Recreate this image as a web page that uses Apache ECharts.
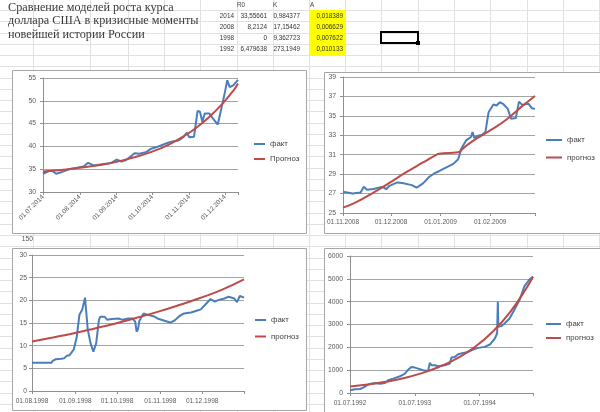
<!DOCTYPE html>
<html><head><meta charset="utf-8">
<script src="https://cdn.jsdelivr.net/npm/echarts@6/dist/echarts.min.js"></script>
<style>html,body{margin:0;padding:0;background:#fff}#c{width:600px;height:412px}</style>
</head><body><div id="c"></div>
<script>
// ---------------- data ----------------
const titleLines = ['Сравнение моделей роста курса', 'доллара США в кризисные моменты', 'новейшей истории России'];
const tableHeader = ['R0', 'K', 'A'];
const tableYears = ['2014', '2008', '1998', '1992'];
const tableR0 = ['33,55661', '8,2124', '0', '6,479638'];
const tableK = ['0,984377', '17,15462', '9,362723', '273,1949'];
const tableA = ['0,018389', '0,006629', '0,007622', '0,010133'];
const hiddenAxisLabel = '150';

// 2014
const dates2014 = ['2014-07-01','2014-07-06','2014-07-09','2014-07-12','2014-07-17','2014-07-23','2014-07-30','2014-08-04','2014-08-08','2014-08-13','2014-08-20','2014-08-27','2014-09-01','2014-09-05','2014-09-09','2014-09-16','2014-09-20','2014-09-26','2014-09-30','2014-10-04','2014-10-13','2014-10-18','2014-10-23','2014-10-27','2014-10-30','2014-11-01','2014-11-05','2014-11-08','2014-11-10','2014-11-12','2014-11-14','2014-11-18','2014-11-21','2014-11-25','2014-11-28','2014-12-01','2014-12-03','2014-12-05','2014-12-08','2014-12-12'];
const fact2014 = [34.0,34.6,34.6,34.0,34.4,35.0,35.3,35.6,36.4,35.8,36.1,36.35,37.1,36.7,37.0,38.5,38.4,38.8,39.5,39.8,40.7,41.1,41.3,42.0,43.0,42.0,42.1,47.8,47.6,45.4,47.2,47.2,46.1,44.8,48.3,51.9,54.5,53.0,53.4,54.6];
const fcDates2014 = ['2014-07-01','2014-07-16','2014-07-31','2014-08-15','2014-08-30','2014-09-14','2014-09-29','2014-10-14','2014-10-29','2014-11-08','2014-11-18','2014-11-28','2014-12-08','2014-12-12'];
const fc2014 = [34.5,34.8,35.3,35.8,36.5,37.5,38.7,40.3,42.5,44.3,46.5,49.1,52.2,53.8];
const xLabels2014 = ['2014-07-01','2014-08-01','2014-09-01','2014-10-01','2014-11-01','2014-12-01'];
const xTicks2014 = ['2014-07-01','2014-08-01','2014-09-01','2014-10-01','2014-11-01','2014-12-01','2014-12-12'];
const yTicks2014 = [30,35,40,45,50,55];

// 2008
const dates2008 = ['2008-11-01','2008-11-07','2008-11-12','2008-11-14','2008-11-16','2008-11-20','2008-11-24','2008-11-26','2008-11-28','2008-11-30','2008-12-05','2008-12-08','2008-12-14','2008-12-17','2008-12-21','2008-12-25','2008-12-28','2008-12-31','2009-01-04','2009-01-09','2009-01-12','2009-01-14','2009-01-17','2009-01-20','2009-01-21','2009-01-22','2009-01-24','2009-01-27','2009-01-29','2009-01-31','2009-02-03','2009-02-05','2009-02-07','2009-02-09','2009-02-12','2009-02-14','2009-02-15','2009-02-17','2009-02-19','2009-02-21','2009-02-25','2009-02-27','2009-03-01'];
const fact2008 = [27.19,27.0,27.1,27.7,27.4,27.47,27.64,27.67,27.45,27.8,28.15,28.08,27.87,27.6,28.05,28.73,29.07,29.3,29.65,30.06,30.54,31.63,32.48,32.82,33.33,32.72,32.92,33.06,33.33,35.38,36.17,36.06,36.4,36.24,35.72,34.7,34.6,34.77,36.47,36.13,36.24,35.79,35.72];
const fcDates2008 = ['2008-11-01','2008-11-09','2008-11-20','2008-11-30','2008-12-10','2008-12-21','2008-12-29','2008-12-31','2009-01-12','2009-01-14','2009-01-21','2009-02-01','2009-02-11','2009-02-21','2009-03-01'];
const fc2008 = [25.55,26.1,27.1,28.1,29.15,30.2,30.95,31.1,31.25,31.5,32.4,33.5,34.6,36.0,37.05];
const xLabels2008 = ['2008-11-01','2008-12-01','2009-01-01','2009-02-01'];
const xTicks2008 = ['2008-11-01','2008-12-01','2009-01-01','2009-02-01','2009-03-01'];
const yTicks2008 = [25,27,29,31,33,35,37,39];

// 1998
const dates1998 = ['1998-08-01','1998-08-15','1998-08-16','1998-08-17','1998-08-18','1998-08-22','1998-08-24','1998-08-26','1998-08-28','1998-08-29','1998-08-31','1998-09-02','1998-09-04','1998-09-06','1998-09-08','1998-09-10','1998-09-12','1998-09-14','1998-09-16','1998-09-18','1998-09-19','1998-09-22','1998-09-24','1998-09-27','1998-10-02','1998-10-05','1998-10-09','1998-10-12','1998-10-14','1998-10-15','1998-10-16','1998-10-17','1998-10-20','1998-10-23','1998-10-27','1998-10-30','1998-11-04','1998-11-08','1998-11-11','1998-11-15','1998-11-18','1998-11-23','1998-11-27','1998-11-30','1998-12-04','1998-12-07','1998-12-10','1998-12-13','1998-12-17','1998-12-20','1998-12-24','1998-12-26','1998-12-28','1998-12-31'];
const fact1998 = [6.25,6.25,6.7,6.5,7.0,7.1,7.2,7.8,7.9,8.3,9.2,11.8,16.8,17.9,20.6,13.5,10.5,8.7,10.5,15.7,16.4,16.4,15.7,15.9,16.0,15.7,16.0,16.0,15.3,13.1,13.6,15.5,17.1,16.8,16.5,16.0,15.5,15.1,15.5,16.6,17.1,17.3,17.7,18.0,19.3,20.3,19.7,20.1,20.4,20.8,20.4,19.6,21.0,20.6];
const fcDates1998 = ['1998-08-01','1998-08-16','1998-08-31','1998-09-15','1998-09-30','1998-10-15','1998-10-30','1998-11-14','1998-11-29','1998-12-15','1998-12-31'];
const fc1998 = [10.9,11.8,12.75,13.8,14.9,16.15,17.45,18.9,20.45,22.3,24.6];
const xLabels1998 = ['1998-08-01','1998-09-01','1998-10-01','1998-11-01','1998-12-01'];
const xTicks1998 = ['1998-08-01','1998-09-01','1998-10-01','1998-11-01','1998-12-01','1998-12-31'];
const yTicks1998 = [0,5,10,15,20,25,30];

// 1992
const dates1992 = ['1992-07-01','1992-07-29','1992-08-26','1992-09-14','1992-10-03','1992-10-16','1992-11-18','1992-12-17','1993-01-14','1993-02-01','1993-03-01','1993-04-08','1993-05-06','1993-05-25','1993-06-12','1993-07-01','1993-07-20','1993-08-17','1993-09-14','1993-09-23','1993-10-03','1993-10-22','1993-11-09','1993-12-17','1994-01-14','1994-01-23','1994-02-11','1994-03-02','1994-03-30','1994-04-27','1994-05-25','1994-06-22','1994-07-29','1994-08-27','1994-09-24','1994-10-07','1994-10-11','1994-10-14','1994-10-30','1994-11-18','1994-12-16','1995-01-13','1995-02-10','1995-03-10','1995-04-08','1995-04-27'];
const fact1992 = [117,160,176,234,337,381,439,410,439,556,630,732,849,1025,1142,1113,1069,995,966,1318,1215,1215,1171,1215,1288,1552,1581,1698,1757,1801,1903,1976,2020,2123,2386,2606,3997,2899,2928,3045,3265,3660,4070,4685,4978,5095];
const fcDates1992 = ['1992-07-01','1992-10-09','1993-01-17','1993-04-27','1993-08-05','1993-11-13','1994-02-21','1994-06-01','1994-09-09','1994-12-18','1995-03-28','1995-04-27'];
const fc1992 = [290,370,490,650,860,1140,1510,2000,2660,3530,4680,5100];
const xLabels1992 = ['1992-07-01','1993-07-01','1994-07-01'];
const xTicks1992 = ['1992-07-01','1993-07-01','1994-07-01','1995-04-27'];
const yTicks1992 = [0,1000,2000,3000,4000,5000,6000];

// ---------------- style / layout ----------------
const BLUE = '#4A7EBB', RED = '#BE4B48';
const AXC = '#8f8f8f', GRIDC = '#a3a3a3', LBL = '#595959';
const FONT_AX = '"Liberation Sans",Arial,sans-serif';

const chart = echarts.init(document.getElementById('c'), null, {renderer: 'canvas'});

function ts(s) { return Date.parse(s + 'T00:00:00Z'); }
function pairs(d, v) { return d.map((x, i) => [ts(x), v[i]]); }
function fmtDate(v) { return echarts.time.format(v, '{dd}.{MM}.{yyyy}', true); }

function xAx(gi, min, max, labels, ticks, rotate, margin) {
  return {
    type: 'value', gridIndex: gi, min: ts(min), max: ts(max), scale: true,
    axisLine: {show: true, onZero: false, lineStyle: {color: AXC, width: 1}},
    axisTick: {show: true, customValues: ticks.map(ts), length: 3, lineStyle: {color: AXC}},
    axisLabel: {customValues: labels.map(ts), formatter: fmtDate, rotate: rotate, margin: margin,
      fontSize: 6.5, color: LBL, fontFamily: FONT_AX, hideOverlap: false},
    splitLine: {show: false}, minorTick: {show: false}
  };
}
function yAx(gi, ticks, margin) {
  return {
    type: 'value', gridIndex: gi, min: ticks[0], max: ticks[ticks.length - 1],
    axisLine: {show: true, onZero: false, lineStyle: {color: AXC, width: 1}},
    axisTick: {show: true, customValues: ticks, length: 3, lineStyle: {color: AXC}},
    axisLabel: {customValues: ticks, formatter: v => String(v), margin: margin, fontSize: 6.8, color: LBL, fontFamily: FONT_AX},
    splitLine: {show: true, lineStyle: {color: GRIDC, width: 1}}
  };
}
function ln(name, gi, d, v, color, smooth) {
  return {type: 'line', name: name, xAxisIndex: gi, yAxisIndex: gi, data: pairs(d, v),
    showSymbol: false, symbol: 'none', smooth: smooth, lineStyle: {color: color, width: 2},
    itemStyle: {color: color}, z: smooth ? 3 : 2};
}
function lg(names, left, top, iw, gap) {
  return {data: names, orient: 'vertical', left: left, top: top, itemWidth: iw, itemHeight: 2,
    itemGap: gap, icon: 'rect', padding: 0, selectedMode: false,
    textStyle: {fontSize: 7.8, color: '#404040', fontFamily: FONT_AX}};
}

// spreadsheet background
const g = [];
const colX = [33, 90, 128, 164, 200, 237, 273, 309, 345, 381, 418, 454, 490, 527, 563, 599];
for (const x of colX) g.push({type: 'line', z: -20, silent: true, shape: {x1: x + 0.5, y1: 0, x2: x + 0.5, y2: 412}, style: {stroke: '#e1e1e1', lineWidth: 1}});
for (let y = 10; y < 412; y += 11.25) g.push({type: 'line', z: -20, silent: true, shape: {x1: 0, y1: Math.round(y) + 0.5, x2: 600, y2: Math.round(y) + 0.5}, style: {stroke: '#e1e1e1', lineWidth: 1}});
g.push({type: 'rect', z: -15, shape: {x: 309, y: 10, width: 37, height: 45}, style: {fill: '#FFFF00'}});
g.push({type: 'rect', z: -15, shape: {x: 381, y: 32, width: 37, height: 11}, style: {fill: 'none', stroke: '#000', lineWidth: 2}});
g.push({type: 'rect', z: -14, shape: {x: 416, y: 41, width: 4, height: 4}, style: {fill: '#000'}});
titleLines.forEach((t, i) => g.push({type: 'text', z: -10, x: 8, y: 7.5 + i * 13.5,
  style: {text: t, fill: '#3a3a3a', font: '12.2px "Liberation Serif", serif', align: 'left', verticalAlign: 'middle'}}));
const hdrX = [237, 273, 310];
tableHeader.forEach((t, i) => g.push({type: 'text', z: -10, x: hdrX[i], y: 4.5, scaleX: 0.85,
  style: {text: t, fill: '#444', font: '7.5px ' + FONT_AX, align: 'left', verticalAlign: 'middle'}}));
const colRight = [234, 267, 300, 343];
[tableYears, tableR0, tableK, tableA].forEach((col, c) => col.forEach((t, r) => g.push({type: 'text', z: -10,
  x: colRight[c], y: 15.5 + r * 11.2, scaleX: 0.85,
  style: {text: t, fill: '#333', font: '7.5px ' + FONT_AX, align: 'right', verticalAlign: 'middle'}})));
g.push({type: 'text', z: -10, x: 33, y: 239, scaleX: 0.9, style: {text: hiddenAxisLabel, fill: '#555', font: '7.5px ' + FONT_AX, align: 'right', verticalAlign: 'middle'}});
// chart boxes
[[12, 70, 294, 163], [324, 72, 282, 161], [12, 248, 294, 162], [324, 248, 282, 170]].forEach(b =>
  g.push({type: 'rect', z: -5, shape: {x: b[0] + 0.5, y: b[1] + 0.5, width: b[2], height: b[3]}, style: {fill: '#fff', stroke: '#a6a6a6', lineWidth: 1}}));

const option = {
  animation: false,
  backgroundColor: 'transparent',
  graphic: {elements: g},
  grid: [
    {left: 43, top: 78, width: 195, height: 114},
    {left: 343, top: 77, width: 192, height: 136},
    {left: 32, top: 255, width: 212, height: 136},
    {left: 350, top: 256, width: 183, height: 137}
  ],
  xAxis: [
    xAx(0, '2014-07-01', '2014-12-12', xLabels2014, xTicks2014, 45, 4),
    xAx(1, '2008-11-01', '2009-03-01', xLabels2008, xTicks2008, 0, 6),
    xAx(2, '1998-08-01', '1998-12-31', xLabels1998, xTicks1998, 0, 7),
    xAx(3, '1992-07-01', '1995-04-27', xLabels1992, xTicks1992, 0, 7)
  ],
  yAxis: [yAx(0, yTicks2014, 7), yAx(1, yTicks2008, 7), yAx(2, yTicks1998, 5), yAx(3, yTicks1992, 7)],
  legend: [
    lg(['факт', 'Прогноз'], 254, 140, 11, 7),
    lg(['факт', 'прогноз'], 546, 136, 16, 9.5),
    lg(['факт', 'прогноз'], 255, 316, 11, 8.5),
    lg(['факт', 'прогноз'], 546, 320, 15, 6)
  ],
  series: [
    ln('факт', 0, dates2014, fact2014, BLUE, false),
    ln('Прогноз', 0, fcDates2014, fc2014, RED, true),
    ln('факт', 1, dates2008, fact2008, BLUE, false),
    ln('прогноз', 1, fcDates2008, fc2008, RED, true),
    ln('факт', 2, dates1998, fact1998, BLUE, false),
    ln('прогноз', 2, fcDates1998, fc1998, RED, true),
    ln('факт', 3, dates1992, fact1992, BLUE, false),
    ln('прогноз', 3, fcDates1992, fc1992, RED, true)
  ]
};
chart.setOption(option);
</script></body></html>
